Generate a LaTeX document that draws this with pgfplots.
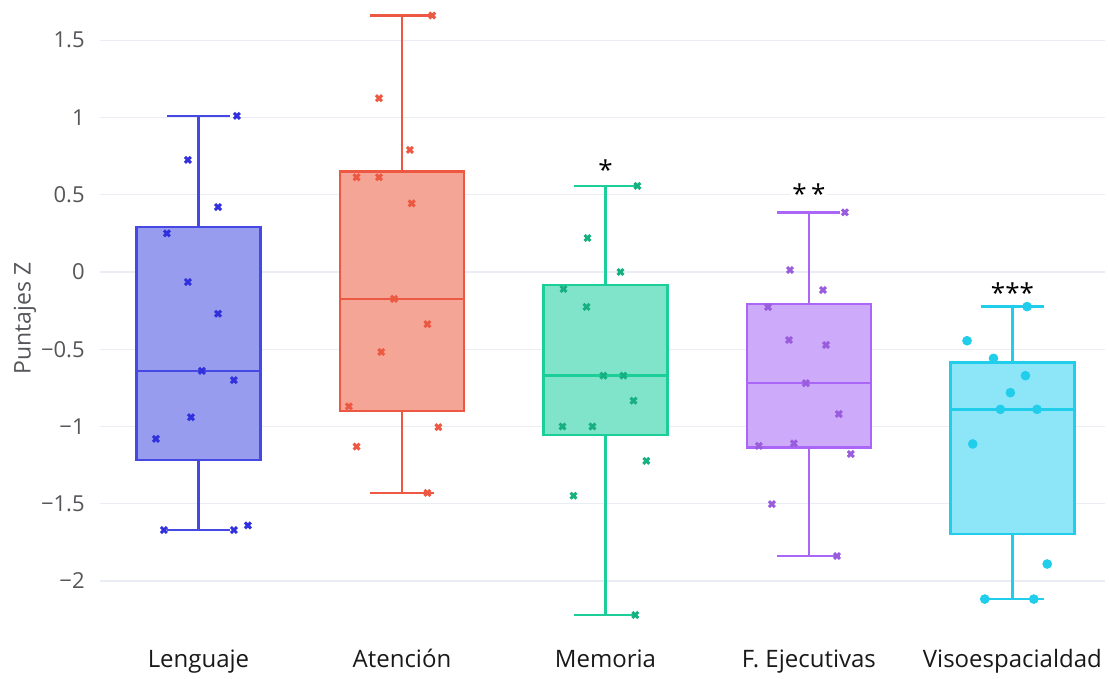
\documentclass[border=0pt]{standalone}
\usepackage{fontspec}
\setmainfont{Open Sans}
\usepackage{pgfplots}
\pgfplotsset{compat=1.18}
\usepgfplotslibrary{statistics}

\definecolor{gridc}{RGB}{234,237,243}
\definecolor{tickc}{RGB}{85,85,90}
\definecolor{lenL}{RGB}{70,72,228}
\definecolor{lenF}{RGB}{152,156,238}
\definecolor{lenM}{RGB}{48,48,220}
\definecolor{ateL}{RGB}{236,88,66}
\definecolor{ateF}{RGB}{245,165,150}
\definecolor{memL}{RGB}{28,206,152}
\definecolor{memF}{RGB}{128,228,202}
\definecolor{fejL}{RGB}{170,102,246}
\definecolor{fejF}{RGB}{205,170,250}
\definecolor{visL}{RGB}{32,206,236}
\definecolor{visF}{RGB}{140,230,248}

% individual scores (x = category position + jitter, y = Z score)
\pgfplotstableread{
x y
0.189 1.01
-0.052 0.725
0.096 0.42
-0.155 0.25
-0.052 -0.065
0.096 -0.27
0.017 -0.64
0.174 -0.70
-0.037 -0.94
-0.209 -1.08
-0.170 -1.67
0.174 -1.67
0.243 -1.64
}\lenguaje
\pgfplotstableread{
x y
1.149 1.66
0.887 1.125
1.039 0.79
0.777 0.613
0.887 0.613
1.048 0.444
0.961 -0.174
1.125 -0.338
0.898 -0.518
0.739 -0.87
1.179 -1.004
0.777 -1.13
1.125 -1.43
}\atencion
\pgfplotstableread{
x y
2.157 0.557
1.912 0.22
2.074 0.0
1.794 -0.11
1.907 -0.226
1.990 -0.671
2.088 -0.671
2.138 -0.833
1.789 -1.0
1.936 -1.0
2.201 -1.223
1.843 -1.448
2.147 -2.22
}\memoria
\pgfplotstableread{
x y
3.177 0.386
2.907 0.013
3.069 -0.117
2.799 -0.227
2.902 -0.44
3.084 -0.472
2.985 -0.72
3.147 -0.919
2.926 -1.109
2.754 -1.126
3.206 -1.178
2.818 -1.502
3.138 -1.838
}\ejecutivas
\pgfplotstableread{
x y
4.072 -0.224
3.777 -0.445
3.907 -0.559
4.064 -0.671
3.990 -0.781
3.941 -0.889
4.121 -0.889
3.805 -1.113
4.171 -1.89
3.864 -2.117
4.105 -2.117
}\visoesp

\begin{document}
\begin{tikzpicture}
\begin{axis}[
  scale only axis,
  width=502.5pt, height=313.5pt,
  xmin=-0.484, xmax=4.455,
  ymin=-2.330, ymax=1.728,
  axis line style={draw=none},
  major tick length=0pt,
  ytick={-2,-1.5,-1,-0.5,0,0.5,1,1.5},
  yticklabels={−2,−1.5,−1,−0.5,0,0.5,1,1.5},
  yticklabel style={font=\fontsize{11}{12}\selectfont, text=tickc, inner sep=0pt, xshift=-7.5pt},
  xtick={0,1,2,3,4},
  xticklabels={Lenguaje,Atención,Memoria,F. Ejecutivas,Visoespacialdad},
  xticklabel style={font=\fontsize{12}{13}\selectfont, text=black!90, anchor=base, inner sep=0pt, yshift=-18pt},
  ymajorgrids,
  grid style={draw=gridc, line width=0.6pt},
  ylabel={Puntajes Z},
  ylabel style={font=\fontsize{11.5}{12}\selectfont, text=tickc, at={(axis description cs:-0.0746,0.5)}, anchor=center},
  boxplot/draw direction=y,
  boxplot/box extend=0.61,
  boxplot/whisker extend=0.31,
  clip=false,
]
% boxes
\addplot[draw=lenL, fill=lenF, line width=1.2pt, boxplot prepared={draw position=0,
  median=-0.64, upper quartile=0.29, lower quartile=-1.217,
  upper whisker=1.01, lower whisker=-1.67}] coordinates {};
\addplot[draw=ateL, fill=ateF, line width=1.2pt, boxplot prepared={draw position=1,
  median=-0.174, upper quartile=0.65, lower quartile=-0.90,
  upper whisker=1.66, lower whisker=-1.43}] coordinates {};
\addplot[draw=memL, fill=memF, line width=1.2pt, boxplot prepared={draw position=2,
  median=-0.671, upper quartile=-0.084, lower quartile=-1.055,
  upper whisker=0.557, lower whisker=-2.22}] coordinates {};
\addplot[draw=fejL, fill=fejF, line width=1.2pt, boxplot prepared={draw position=3,
  median=-0.72, upper quartile=-0.207, lower quartile=-1.137,
  upper whisker=0.386, lower whisker=-1.838}] coordinates {};
\addplot[draw=visL, fill=visF, line width=1.2pt, boxplot prepared={draw position=4,
  median=-0.889, upper quartile=-0.585, lower quartile=-1.696,
  upper whisker=-0.224, lower whisker=-2.117}] coordinates {};
% points
\addplot[only marks, mark=x, mark size=2.1pt, line width=1.5pt, color=lenM] table {\lenguaje};
\addplot[only marks, mark=x, mark size=2.1pt, line width=1.5pt, color=ateL] table {\atencion};
\addplot[only marks, mark=x, mark size=2.1pt, line width=1.5pt, color=memL!85!black] table {\memoria};
\addplot[only marks, mark=x, mark size=2.1pt, line width=1.5pt, color=fejL!90!black] table {\ejecutivas};
\addplot[only marks, mark=*, mark size=2.2pt, color=visL, mark options={draw=visL, fill=visL}] table {\visoesp};
% significance marks
\node[fill=white, inner sep=1pt, font=\fontsize{13}{13}\selectfont, yshift=-1pt] at (axis cs:2,0.673) {*};
\node[fill=white, inner sep=1pt, font=\fontsize{13}{13}\selectfont, yshift=-1pt] at (axis cs:3,0.518) {*\,*};
\node[fill=white, inner sep=1pt, font=\fontsize{13}{13}\selectfont, yshift=-1pt] at (axis cs:4,-0.123) {***};
\end{axis}
\pgfresetboundingbox
\useasboundingbox (-50pt,-23.5pt) rectangle (504.5pt,316pt);
\end{tikzpicture}
\end{document}
